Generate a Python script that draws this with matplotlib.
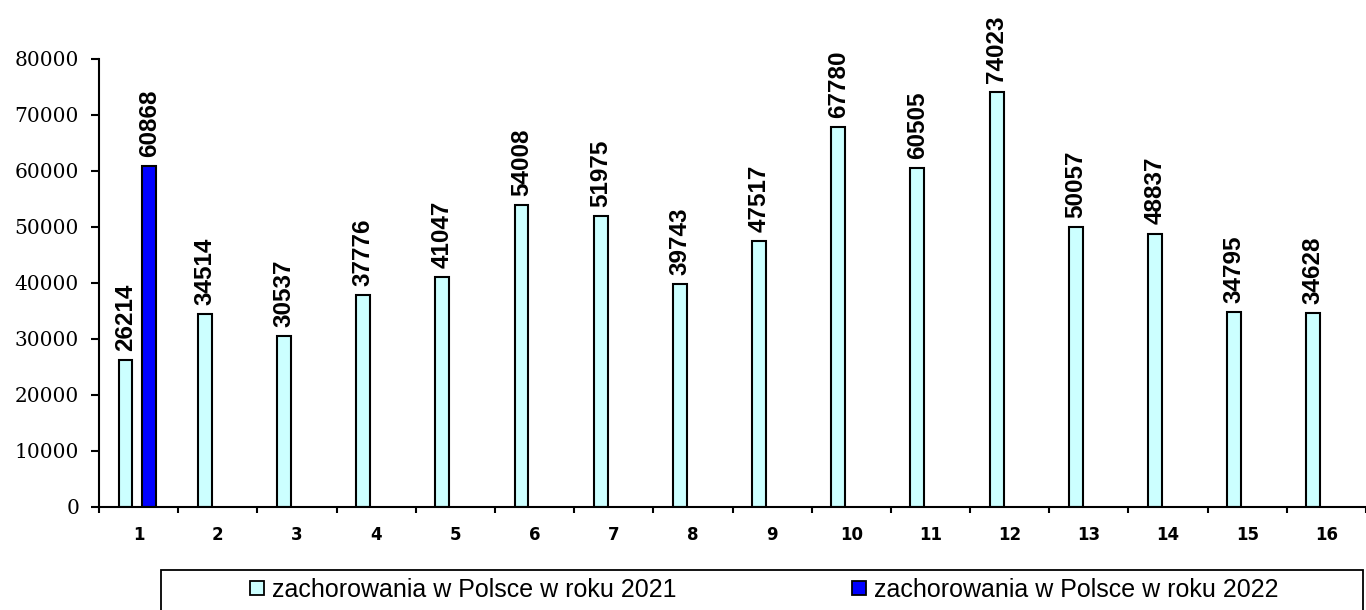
import matplotlib.pyplot as plt
from matplotlib.lines import Line2D
from matplotlib.patches import Rectangle
import numpy as np

# data
categories = [str(i) for i in range(1, 17)]
cases_2021 = [26214, 34514, 30537, 37776, 41047, 54008, 51975, 39743,
              47517, 67780, 60505, 74023, 50057, 48837, 34795, 34628]
cases_2022 = [60868]  # only the first category has a value
label_2021 = "zachorowania w Polsce w roku 2021"
label_2022 = "zachorowania w Polsce w roku 2022"
y_ticks = [0, 10000, 20000, 30000, 40000, 50000, 60000, 70000, 80000]

W, H = 1366, 610
fig = plt.figure(figsize=(W / 100, H / 100), dpi=100)
ax = fig.add_axes([99 / W, 1 - 507 / H, (1366 - 99) / W, (507 - 59) / H])

x = np.arange(len(categories))
bw = 0.175
color_2021 = "#CCFFFF"
color_2022 = "#0000FF"

b1 = ax.bar(x - 0.165, cases_2021, width=bw, color=color_2021,
            edgecolor="black", linewidth=1.5)
x2 = x[:len(cases_2022)]
b2 = ax.bar(x2 + 0.135, cases_2022, width=bw, color=color_2022,
            edgecolor="black", linewidth=1.5)

for bars, vals in [(b1, cases_2021), (b2, cases_2022)]:
    for rect, v in zip(bars, vals):
        ax.annotate(str(v), (rect.get_x() + rect.get_width() / 2, v),
                    xytext=(0, 6.5), textcoords="offset points",
                    rotation=90, ha="center", va="bottom",
                    fontsize=17.5, fontweight="bold", family="Liberation Sans")

ax.set_xlim(-0.5, len(categories) - 0.5)
ax.set_ylim(0, 80000)
ax.set_yticks(y_ticks)
ax.set_yticklabels([str(t) for t in y_ticks], family="DejaVu Serif", fontsize=14.5)
ax.tick_params(axis="y", direction="out", length=5.8, width=1.5, pad=8.6)

ax.set_xticks(np.arange(len(categories) + 1) - 0.5)
ax.set_xticklabels([])
ax.tick_params(axis="x", which="major", direction="out", length=4.5, width=1.5)
ax.set_xticks(x, minor=True)
ax.set_xticklabels(categories, minor=True, fontsize=12, fontweight="bold")
ax.tick_params(axis="x", which="minor", length=0, pad=14)

for s in ["top", "right"]:
    ax.spines[s].set_visible(False)
for s in ["left", "bottom"]:
    ax.spines[s].set_linewidth(1.5)

# legend frame, running past the bottom edge like in the original
fig.patches.append(Rectangle((161 / W, -0.05), (1363 - 161) / W, 1 - 570 / H + 0.05,
                             transform=fig.transFigure, fill=False,
                             edgecolor="black", linewidth=1.3))

legend_font = {"family": "Liberation Sans", "size": 18}
for lbl, col, xpos in [(label_2021, color_2021, 249), (label_2022, color_2022, 851)]:
    h = Line2D([], [], marker="s", linestyle="none", markersize=10,
               markerfacecolor=col, markeredgecolor="black", markeredgewidth=1.3)
    leg = fig.legend([h], [lbl], loc="center left",
                     bbox_to_anchor=(xpos / W, 1 - 590 / H), frameon=False,
                     prop=legend_font, borderpad=0, borderaxespad=0,
                     handlelength=0.6, handletextpad=0.3)

fig.savefig("out.png", dpi=100)
